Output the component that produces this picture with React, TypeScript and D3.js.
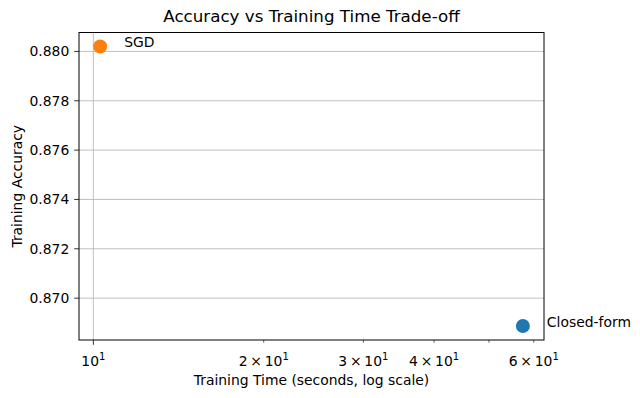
import { useRef, useEffect } from 'react';
import * as d3 from 'd3';

const methods = ['Closed-form', 'SGD'];
const trainTimes = [57.4, 10.28];
const accuracies = [0.86887, 0.8802];
const colors = ['#1f77b4', '#ff7f0e'];
const yTicks = [0.87, 0.872, 0.874, 0.876, 0.878, 0.88];
const xMajorTicks = [10];
const xMinorTicks = [20, 30, 40, 50, 60];
const xMinorLabels = [20, 30, 40, 60];

const W = 640;
const H = 398;
const FONT = 'DejaVu Sans, sans-serif';
const FS = 13.9;

export default function App() {
	const svgRef = useRef<SVGSVGElement>(null);

	useEffect(() => {
		const svg = d3.select(svgRef.current);
		svg.selectAll('*').remove();

		const margin = { top: 32.5, right: 96, bottom: 58, left: 79 };
		const plotW = W - margin.left - margin.right;
		const plotH = H - margin.top - margin.bottom;

		// matplotlib-style 5% padding on the data range
		const [xMin, xMax] = d3.extent(trainTimes) as [number, number];
		const lx0 = Math.log10(xMin);
		const lx1 = Math.log10(xMax);
		const lpad = (lx1 - lx0) * 0.05;
		const xScale = d3
			.scaleLog()
			.domain([10 ** (lx0 - lpad), 10 ** (lx1 + lpad)])
			.range([0, plotW]);

		const [yMin, yMax] = d3.extent(accuracies) as [number, number];
		const ypad = (yMax - yMin) * 0.05;
		const yScale = d3
			.scaleLinear()
			.domain([yMin - ypad, yMax + ypad])
			.range([plotH, 0]);

		const g = svg
			.append('g')
			.attr('transform', `translate(${margin.left},${margin.top})`);

		// Grid
		const grid = g.append('g').attr('stroke', '#b0b0b0').attr('stroke-width', 0.8);
		yTicks.forEach((t) => {
			grid.append('line')
				.attr('x1', 0)
				.attr('x2', plotW)
				.attr('y1', yScale(t))
				.attr('y2', yScale(t));
		});
		xMajorTicks.forEach((t) => {
			grid.append('line')
				.attr('x1', xScale(t))
				.attr('x2', xScale(t))
				.attr('y1', 0)
				.attr('y2', plotH);
		});

		// Points
		g.selectAll('circle')
			.data(methods)
			.join('circle')
			.attr('cx', (_, i) => xScale(trainTimes[i]))
			.attr('cy', (_, i) => yScale(accuracies[i]))
			.attr('r', 7)
			.attr('fill', (_, i) => colors[i]);

		// Annotations
		g.selectAll('text.ann')
			.data(methods)
			.join('text')
			.attr('class', 'ann')
			.attr('x', (_, i) => xScale(trainTimes[i]) + 24)
			.attr('y', (_, i) => yScale(accuracies[i]) + 0.5)
			.attr('font-family', FONT)
			.attr('font-size', FS)
			.text((d) => d);

		// Frame
		g.append('rect')
			.attr('width', plotW)
			.attr('height', plotH)
			.attr('fill', 'none')
			.attr('stroke', '#000')
			.attr('stroke-width', 1);

		// Y axis ticks
		const yAx = g.append('g');
		yTicks.forEach((t) => {
			yAx.append('line')
				.attr('x1', -4.8)
				.attr('x2', 0)
				.attr('y1', yScale(t))
				.attr('y2', yScale(t))
				.attr('stroke', '#000')
				.attr('stroke-width', 0.8);
			yAx.append('text')
				.attr('x', -9.7)
				.attr('y', yScale(t))
				.attr('dy', '0.35em')
				.attr('text-anchor', 'end')
				.attr('font-family', FONT)
				.attr('font-size', FS)
				.text(d3.format('.3f')(t));
		});

		// X axis ticks
		const xAx = g.append('g').attr('transform', `translate(0,${plotH})`);
		xMajorTicks.forEach((t) => {
			xAx.append('line')
				.attr('x1', xScale(t))
				.attr('x2', xScale(t))
				.attr('y1', 0)
				.attr('y2', 4.8)
				.attr('stroke', '#000')
				.attr('stroke-width', 0.8);
		});
		xMinorTicks.forEach((t) => {
			xAx.append('line')
				.attr('x1', xScale(t))
				.attr('x2', xScale(t))
				.attr('y1', 0)
				.attr('y2', 2.8)
				.attr('stroke', '#000')
				.attr('stroke-width', 0.6);
		});
		const labelTicks = [...xMajorTicks, ...xMinorLabels];
		labelTicks.forEach((t) => {
			const exp = Math.floor(Math.log10(t));
			const mant = Math.round(t / 10 ** exp);
			const txt = xAx.append('text')
				.attr('x', xScale(t))
				.attr('y', 25.5)
				.attr('text-anchor', 'middle')
				.attr('font-family', FONT)
				.attr('font-size', FS);
			txt.append('tspan').text(mant === 1 ? '10' : `${mant}\u2009\u00d7\u200910`);
			txt.append('tspan')
				.attr('dy', -5.5)
				.attr('font-size', 10)
				.text(String(exp));
		});

		// Axis labels
		svg.append('text')
			.attr('x', margin.left + plotW / 2)
			.attr('y', 385)
			.attr('text-anchor', 'middle')
			.attr('font-family', FONT)
			.attr('font-size', FS)
			.text('Training Time (seconds, log scale)');

		svg.append('text')
			.attr('transform', `translate(21.5,${margin.top + plotH / 2}) rotate(-90)`)
			.attr('text-anchor', 'middle')
			.attr('font-family', FONT)
			.attr('font-size', FS)
			.text('Training Accuracy');

		// Title
		svg.append('text')
			.attr('x', margin.left + plotW / 2)
			.attr('y', 22)
			.attr('text-anchor', 'middle')
			.attr('font-family', FONT)
			.attr('font-size', 16.7)
			.text('Accuracy vs Training Time Trade-off');
	}, []);

	return (
		<svg
			ref={svgRef}
			width={W}
			height={H}
			style={{ position: 'absolute', left: 0, top: 0, background: '#fff', display: 'block' }}
		/>
	);
}
